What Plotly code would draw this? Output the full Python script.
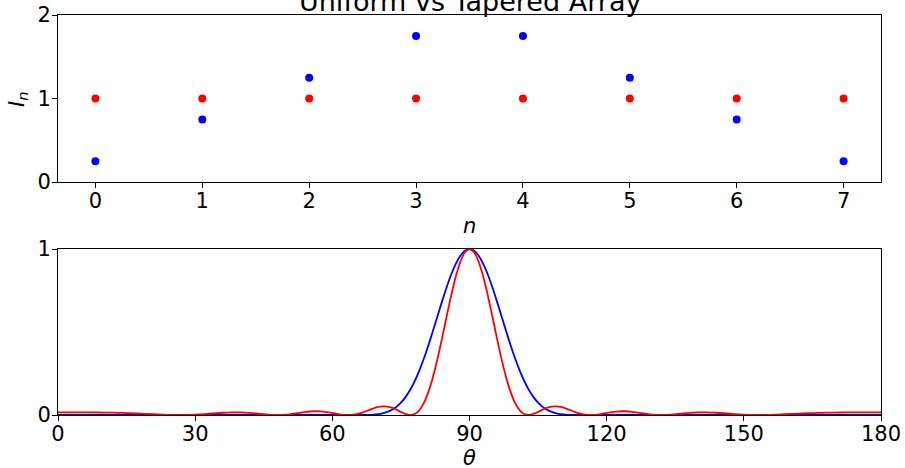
import plotly.graph_objects as go
from plotly.subplots import make_subplots

# ---- top panel: element currents ----
n_idx = [0, 1, 2, 3, 4, 5, 6, 7]
I_uniform = [1, 1, 1, 1, 1, 1, 1, 1]
I_tapered = [0.25, 0.75, 1.25, 1.75, 1.75, 1.25, 0.75, 0.25]

# ---- bottom panel: normalised array-factor power vs theta (deg) ----
theta = [0, 2, 4, 6, 8, 10, 12, 14, 16, 18, 20, 22, 24, 26, 28, 30, 32, 34, 36, 38,
         40, 42, 44, 46, 48, 50, 52, 54, 56, 58,
         60, 61, 62, 63, 64, 65, 66, 67, 68, 69, 70, 71, 72, 73, 74, 75, 76, 77, 78, 79,
         80, 81, 82, 83, 84, 85, 86, 87, 88, 89, 90, 91, 92, 93, 94, 95, 96, 97, 98, 99,
         100, 101, 102, 103, 104, 105, 106, 107, 108, 109, 110, 111, 112, 113, 114, 115,
         116, 117, 118, 119, 120,
         122, 124, 126, 128, 130, 132, 134, 136, 138, 140, 142, 144, 146, 148, 150,
         152, 154, 156, 158, 160, 162, 164, 166, 168, 170, 172, 174, 176, 178, 180]

AF_uniform = [0.0161, 0.0161, 0.0160, 0.0158, 0.0155, 0.0148, 0.0139, 0.0125, 0.0107, 0.0084,
              0.0059, 0.0034, 0.0013, 0.0001, 0.0003, 0.0021, 0.0055, 0.0097, 0.0137, 0.0160,
              0.0157, 0.0124, 0.0071, 0.0021, 0.0000, 0.0026, 0.0095, 0.0177, 0.0225, 0.0206,
              0.0123, 0.0073, 0.0029, 0.0003, 0.0004, 0.0037, 0.0102, 0.0193, 0.0299, 0.0402,
              0.0483, 0.0523, 0.0510, 0.0441, 0.0325, 0.0186, 0.0062, 0.0001, 0.0056, 0.0279,
              0.0713, 0.1380, 0.2279, 0.3380, 0.4627, 0.5936, 0.7209, 0.8341, 0.9233, 0.9804,
              1.0000,
              0.9804, 0.9233, 0.8341, 0.7209, 0.5936, 0.4627, 0.3380, 0.2279, 0.1380, 0.0713,
              0.0279, 0.0056, 0.0001, 0.0062, 0.0186, 0.0325, 0.0441, 0.0510, 0.0523, 0.0483,
              0.0402, 0.0299, 0.0193, 0.0102, 0.0037, 0.0004, 0.0003, 0.0029, 0.0073, 0.0123,
              0.0206, 0.0225, 0.0177, 0.0095, 0.0026, 0.0000, 0.0021, 0.0071, 0.0124, 0.0157,
              0.0160, 0.0137, 0.0097, 0.0055, 0.0021, 0.0003, 0.0001, 0.0013, 0.0034, 0.0059,
              0.0084, 0.0107, 0.0125, 0.0139, 0.0148, 0.0155, 0.0158, 0.0160, 0.0161, 0.0161]

AF_tapered = [0.0000, 0.0000, 0.0000, 0.0000, 0.0000, 0.0000, 0.0000, 0.0000, 0.0000, 0.0000,
              0.0000, 0.0000, 0.0000, 0.0000, 0.0000, 0.0000, 0.0000, 0.0000, 0.0000, 0.0000,
              0.0001, 0.0002, 0.0003, 0.0005, 0.0008, 0.0010, 0.0010, 0.0009, 0.0006, 0.0003,
              0.0001, 0.0000, 0.0000, 0.0000, 0.0000, 0.0000, 0.0001, 0.0003, 0.0010, 0.0024,
              0.0052, 0.0102, 0.0184, 0.0308, 0.0490, 0.0742, 0.1077, 0.1505, 0.2034, 0.2663,
              0.3387, 0.4192, 0.5057, 0.5954, 0.6846, 0.7696, 0.8462, 0.9106, 0.9593, 0.9897,
              1.0000,
              0.9897, 0.9593, 0.9106, 0.8462, 0.7696, 0.6846, 0.5954, 0.5057, 0.4192, 0.3387,
              0.2663, 0.2034, 0.1505, 0.1077, 0.0742, 0.0490, 0.0308, 0.0184, 0.0102, 0.0052,
              0.0024, 0.0010, 0.0003, 0.0001, 0.0000, 0.0000, 0.0000, 0.0000, 0.0000, 0.0001,
              0.0003, 0.0006, 0.0009, 0.0010, 0.0010, 0.0008, 0.0005, 0.0003, 0.0002, 0.0001,
              0.0000, 0.0000, 0.0000, 0.0000, 0.0000, 0.0000, 0.0000, 0.0000, 0.0000, 0.0000,
              0.0000, 0.0000, 0.0000, 0.0000, 0.0000, 0.0000, 0.0000, 0.0000, 0.0000, 0.0000]

top_xticks = n_idx
top_yticks = [0, 1, 2]
bot_xticks = [0, 30, 60, 90, 120, 150, 180]
bot_yticks = [0, 1]

FONT = "DejaVu Sans"
RED = "#ff0000"
BLUE = "#0000ff"

fig = make_subplots(rows=2, cols=1)
fig.add_trace(go.Scatter(x=n_idx, y=I_uniform, mode="markers",
                         marker=dict(color=RED, size=8)), 1, 1)
fig.add_trace(go.Scatter(x=n_idx, y=I_tapered, mode="markers",
                         marker=dict(color=BLUE, size=8)), 1, 1)
fig.add_trace(go.Scatter(x=theta, y=AF_tapered, mode="lines",
                         line=dict(color=BLUE, width=1.8, shape="spline", smoothing=0.8)), 2, 1)
fig.add_trace(go.Scatter(x=theta, y=AF_uniform, mode="lines",
                         line=dict(color=RED, width=1.8, shape="spline", smoothing=0.8)), 2, 1)

ax = dict(showline=True, linecolor="black", linewidth=1, mirror=True, ticks="outside",
          ticklen=5, tickcolor="black", showgrid=False, zeroline=False, automargin=False,
          tickfont=dict(family=FONT, size=21, color="black"))
fig.update_xaxes(ticklabelstandoff=-5, **ax)
fig.update_yaxes(ticklabelstandoff=-3, **ax)
fig.update_layout(
    width=905, height=468, margin=dict(l=58, r=24, t=15, b=53),
    plot_bgcolor="white", paper_bgcolor="white", showlegend=False,
    xaxis=dict(domain=[0, 1], range=[-0.35, 7.35], tickvals=top_xticks),
    yaxis=dict(domain=[0.5825, 1], range=[0, 2], tickvals=top_yticks),
    xaxis2=dict(domain=[0, 1], range=[0, 180], tickvals=bot_xticks),
    yaxis2=dict(domain=[0, 0.415], range=[0, 1], tickvals=bot_yticks),
    annotations=[
        dict(text="Uniform vs Tapered Array", x=0.5, y=1.035, xref="paper", yref="paper",
             xanchor="center", yanchor="middle", showarrow=False,
             font=dict(family=FONT, size=27, color="black")),
        dict(text="<i>n</i>", x=0.5, y=0.4725, xref="paper", yref="paper",
             xanchor="center", yanchor="middle", showarrow=False,
             font=dict(family=FONT, size=21, color="black")),
        dict(text="<i>θ</i>", x=0.5, y=-0.1075, xref="paper", yref="paper",
             xanchor="center", yanchor="middle", showarrow=False,
             font=dict(family=FONT, size=21, color="black")),
        dict(text="<i>I</i><sub><i>n</i></sub>", x=-0.0486, y=0.79, xref="paper", yref="paper",
             xanchor="center", yanchor="middle", showarrow=False, textangle=-90,
             font=dict(family=FONT, size=21, color="black")),
    ],
)
fig.write_html("out.html")
